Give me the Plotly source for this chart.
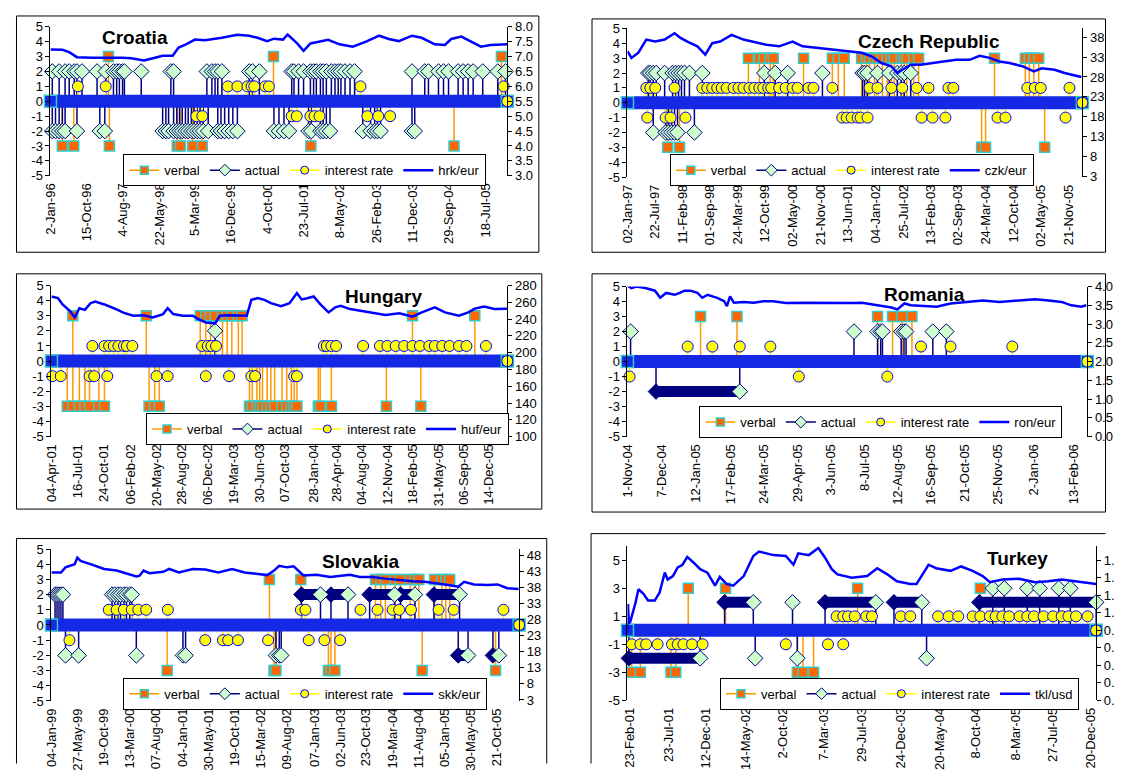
import math
import pandas as pd
import plotly.graph_objects as go

# page is 1123x780; the browser body keeps its default 8px margin, so the
# figure itself is 16px smaller and all layout positions are page pixels.
PAGE_W, PAGE_H, BODY_MARGIN = 1123, 780, 8
FW, FH = PAGE_W - 2 * BODY_MARGIN, PAGE_H - 2 * BODY_MARGIN
FONT = "Liberation Sans, Arial, Helvetica, sans-serif"

# ======================= DATA (dates as decimal years) =======================
# ---------- Croatia ----------
HR_PERIOD = [1996.00, 2006.02]
HR_TICKS = ["2-Jan-96", "15-Oct-96", "4-Aug-97", "22-May-98", "5-Mar-99", "16-Dec-99", "4-Oct-00",
            "23-Jul-01", "8-May-02", "26-Feb-03", "11-Dec-03", "29-Sep-04", "18-Jul-05"]
HR_VERBAL = [(1996.26, -3), (1996.51, -3), (1997.27, 3), (1997.29, -3), (1998.78, -3), (1998.85, -3),
             (1999.12, -3), (1999.33, -3), (2000.89, 3), (2001.71, -3), (2004.85, -3), (2005.89, 3)]
HR_ACTUAL = [(1996.04, 2), (1996.19, 2), (1996.32, 2), (1996.41, 2), (1996.52, 2), (1996.58, 2), (1996.69, 2),
             (1997.02, 2), (1997.21, 2), (1997.38, 2), (1997.45, 2), (1997.51, 2), (1997.58, 2), (1997.62, 2),
             (1997.99, 2), (1998.64, 2), (1998.70, 2), (1999.43, 2), (1999.54, 2), (1999.61, 2), (1999.67, 2),
             (1999.76, 2), (2000.36, 2), (2000.43, 2), (2000.58, 2), (2001.29, 2), (2001.34, 2), (2001.44, 2),
             (2001.55, 2), (2001.70, 2), (2001.77, 2), (2001.83, 2), (2001.92, 2), (2001.98, 2), (2002.05, 2),
             (2002.16, 2), (2002.24, 2), (2002.31, 2), (2002.37, 2), (2002.46, 2), (2002.57, 2), (2002.67, 2),
             (2003.93, 2), (2004.21, 2), (2004.29, 2), (2004.51, 2), (2004.62, 2), (2004.73, 2), (2004.94, 2),
             (2005.05, 2), (2005.16, 2), (2005.27, 2), (2005.48, 2), (2005.81, 2), (2005.98, 2),
             (1996.04, -2), (1996.11, -2), (1996.19, -2), (1996.26, -2), (1996.32, -2), (1996.58, -2),
             (1997.08, -2), (1997.19, -2), (1998.46, -2), (1998.53, -2), (1998.59, -2), (1998.70, -2),
             (1998.77, -2), (1998.83, -2), (1998.89, -2), (1998.96, -2), (1999.02, -2), (1999.09, -2),
             (1999.15, -2), (1999.22, -2), (1999.28, -2), (1999.35, -2), (1999.46, -2), (1999.67, -2),
             (1999.74, -2), (1999.82, -2), (1999.91, -2), (2000.00, -2), (2000.10, -2), (2000.90, -2),
             (2001.01, -2), (2001.12, -2), (2001.23, -2), (2001.66, -2), (2001.72, -2), (2001.92, -2),
             (2001.98, -2), (2002.05, -2), (2002.13, -2), (2002.85, -2), (2003.02, -2), (2003.11, -2),
             (2003.17, -2), (2003.24, -2), (2003.93, -2), (2003.99, -2)]
HR_ACTUAL_RUNS = []
HR_RATE = [(1996.60, 1), (1997.21, 1), (1999.89, 1), (2000.10, 1), (2000.32, 1), (2000.41, 1), (2000.47, 1),
           (2000.71, 1), (2000.79, 1), (2002.80, 1), (2005.94, 1),
           (1999.20, -1), (1999.33, -1), (2001.29, -1), (2001.40, -1), (2001.70, -1), (2001.79, -1),
           (2001.90, -1), (2002.95, -1), (2003.19, -1), (2003.45, -1)]
HR_FX = [(1996.00, 7.24), (1996.26, 7.23), (1996.41, 7.15), (1996.58, 6.98), (1996.91, 6.96), (1997.23, 6.97),
         (1997.56, 6.96), (1997.77, 6.94), (1998.05, 6.87), (1998.27, 6.95), (1998.46, 7.03), (1998.68, 7.03),
         (1998.81, 7.30), (1998.96, 7.40), (1999.17, 7.57), (1999.39, 7.55), (1999.76, 7.63), (2000.10, 7.73),
         (2000.36, 7.70), (2000.54, 7.63), (2000.75, 7.52), (2000.90, 7.60), (2001.10, 7.57), (2001.20, 7.74),
         (2001.41, 7.44), (2001.55, 7.19), (2001.70, 7.44), (2002.09, 7.56), (2002.34, 7.41), (2002.63, 7.33),
         (2002.92, 7.50), (2003.21, 7.70), (2003.42, 7.59), (2003.64, 7.52), (2003.93, 7.70), (2004.14, 7.63),
         (2004.43, 7.41), (2004.65, 7.39), (2004.79, 7.59), (2005.01, 7.67), (2005.22, 7.50), (2005.44, 7.33),
         (2005.65, 7.39), (2006.02, 7.41)]

# ---------- Czech Republic ----------
CZ_PERIOD = [1997.00, 2006.17]
CZ_TICKS = ["02-Jan-97", "22-Jul-97", "11-Feb-98", "01-Sep-98", "24-Mar-99", "12-Oct-99", "02-May-00",
            "21-Nov-00", "13-Jun-01", "04-Jan-02", "25-Jul-02", "13-Feb-03", "02-Sep-03", "24-Mar-04",
            "12-Oct-04", "02-May-05", "21-Nov-05"]
CZ_VERBAL = [(1999.44, 3), (1999.66, 3), (1999.76, 3), (1999.88, 3), (1999.94, 3), (2000.55, 3), (2001.13, 3),
             (2001.25, 3), (2001.37, 3), (2001.72, 3), (2001.82, 3), (2001.88, 3), (2001.98, 3), (2002.04, 3),
             (2002.14, 3), (2002.24, 3), (2002.32, 3), (2002.38, 3), (2002.52, 3), (2002.58, 3), (2002.63, 3),
             (2002.77, 3), (2002.87, 3), (2004.40, 3), (2005.02, 3), (2005.10, 3), (2005.19, 3), (2005.29, 3),
             (1997.81, -3), (1998.05, -3), (2004.14, -3), (2004.22, -3), (2005.41, -3)]
CZ_ACTUAL = [(1997.42, 2), (1997.46, 2), (1997.52, 2), (1997.58, 2), (1997.75, 2), (1997.91, 2), (1997.97, 2),
             (1998.03, 2), (1998.09, 2), (1998.15, 2), (1998.25, 2), (1998.51, 2), (1999.76, 2), (1999.98, 2),
             (2000.23, 2), (2000.93, 2), (2001.74, 2), (2001.78, 2), (2001.84, 2), (2002.04, 2), (2002.28, 2),
             (2002.44, 2), (2002.52, 2), (2002.58, 2), (2002.71, 2),
             (1997.52, -2), (1997.77, -2), (1997.83, -2), (1997.89, -2), (1997.95, -2), (1998.01, -2),
             (1998.35, -2)]
CZ_ACTUAL_RUNS = []
CZ_RATE = [(1997.38, 1), (1997.46, 1), (1997.56, 1), (1997.95, 1), (1998.51, 1), (1998.61, 1), (1998.71, 1),
           (1998.81, 1), (1998.90, 1), (1999.00, 1), (1999.14, 1), (1999.24, 1), (1999.34, 1), (1999.46, 1),
           (1999.56, 1), (1999.66, 1), (1999.74, 1), (1999.84, 1), (1999.90, 1), (2000.06, 1), (2000.19, 1),
           (2000.33, 1), (2000.43, 1), (2000.65, 1), (2000.75, 1), (2001.13, 1), (2001.88, 1), (2002.04, 1),
           (2002.32, 1), (2002.54, 1), (2002.83, 1), (2003.07, 1), (2003.47, 1), (2003.57, 1), (2005.06, 1),
           (2005.21, 1), (2005.33, 1), (2005.91, 1),
           (1997.40, -1), (1997.77, -1), (1997.87, -1), (1998.17, -1), (2001.33, -1), (2001.42, -1),
           (2001.52, -1), (2001.64, -1), (2001.70, -1), (2001.84, -1), (2002.93, -1), (2003.15, -1),
           (2003.41, -1), (2004.46, -1), (2004.62, -1), (2005.83, -1)]
CZ_FX = [(1997.00, 34.5), (1997.08, 32.8), (1997.22, 34.1), (1997.38, 37.4), (1997.56, 36.9), (1997.75, 37.4),
         (1997.95, 39.0), (1998.07, 37.8), (1998.21, 36.9), (1998.41, 35.7), (1998.57, 33.6), (1998.71, 36.5),
         (1998.87, 36.9), (1999.10, 38.6), (1999.34, 37.4), (1999.54, 36.9), (1999.80, 36.1), (2000.06, 35.7),
         (2000.33, 36.9), (2000.53, 35.7), (2000.85, 35.3), (2001.13, 34.9), (2001.44, 34.5), (2001.72, 34.1),
         (2001.92, 33.2), (2002.12, 31.5), (2002.32, 30.7), (2002.44, 29.0), (2002.54, 29.8), (2002.71, 31.1),
         (2002.91, 31.1), (2003.11, 31.5), (2003.37, 31.9), (2003.63, 32.3), (2003.90, 32.3), (2004.10, 33.3),
         (2004.30, 32.8), (2004.50, 31.9), (2004.70, 31.5), (2004.96, 30.7), (2005.19, 29.4), (2005.35, 30.2),
         (2005.61, 29.8), (2005.81, 29.0), (2006.01, 28.3), (2006.15, 28.0)]

# ---------- Hungary ----------
HU_PERIOD = [2001.25, 2006.15]
HU_TICKS = ["04-Apr-01", "16-Jul-01", "24-Oct-01", "06-Feb-02", "20-May-02", "28-Aug-02", "06-Dec-02",
            "19-Mar-03", "30-Jun-03", "07-Oct-03", "28-Jan-04", "28-Apr-04", "04-Aug-04", "12-Nov-04",
            "18-Feb-05", "31-May-05", "06-Sep-05", "14-Dec-05"]
HU_VERBAL = [(2001.48, 3), (2002.27, 3), (2002.85, 3), (2002.91, 3), (2002.96, 3), (2003.01, 3), (2003.09, 3),
             (2003.14, 3), (2003.19, 3), (2003.26, 3), (2003.30, 3), (2005.13, 3), (2005.80, 3),
             (2001.42, -3), (2001.48, -3), (2001.55, -3), (2001.61, -3), (2001.66, -3), (2001.76, -3),
             (2001.82, -3), (2002.30, -3), (2002.36, -3), (2002.41, -3), (2003.38, -3), (2003.41, -3),
             (2003.46, -3), (2003.49, -3), (2003.52, -3), (2003.57, -3), (2003.61, -3), (2003.65, -3),
             (2003.73, -3), (2003.78, -3), (2003.83, -3), (2003.86, -3), (2003.89, -3), (2004.12, -3),
             (2004.14, -3), (2004.26, -3), (2004.85, -3), (2005.22, -3)]
HU_ACTUAL = [(2003.01, 2)]
HU_ACTUAL_RUNS = []
HU_RATE = [(2001.69, 1), (2001.82, 1), (2001.87, 1), (2001.92, 1), (2001.97, 1), (2002.03, 1), (2002.06, 1),
           (2002.12, 1), (2002.87, 1), (2002.93, 1), (2002.97, 1), (2003.02, 1), (2004.18, 1), (2004.21, 1),
           (2004.26, 1), (2004.31, 1), (2004.60, 1), (2004.78, 1), (2004.86, 1), (2004.95, 1), (2005.04, 1),
           (2005.13, 1), (2005.21, 1), (2005.31, 1), (2005.37, 1), (2005.45, 1), (2005.53, 1), (2005.63, 1),
           (2005.71, 1), (2005.92, 1),
           (2001.26, -1), (2001.35, -1), (2001.66, -1), (2001.71, -1), (2001.85, -1), (2002.38, -1),
           (2002.50, -1), (2002.91, -1), (2003.16, -1), (2003.40, -1), (2003.44, -1), (2003.86, -1),
           (2003.89, -1)]
HU_FX = [(2001.25, 267), (2001.32, 265), (2001.37, 257.5), (2001.45, 249.5), (2001.50, 242), (2001.55, 253),
         (2001.61, 251), (2001.67, 259), (2001.72, 261), (2001.82, 257.5), (2001.92, 253), (2002.03, 247.5),
         (2002.13, 244), (2002.24, 244.5), (2002.34, 242), (2002.45, 246), (2002.50, 253), (2002.56, 246),
         (2002.66, 244), (2002.77, 244), (2002.83, 240), (2002.91, 236), (2003.01, 235), (2003.06, 244),
         (2003.15, 244.5), (2003.26, 244.5), (2003.35, 244), (2003.40, 263), (2003.47, 265), (2003.54, 263),
         (2003.61, 259), (2003.72, 255.5), (2003.81, 259), (2003.89, 271), (2003.94, 263.5), (2004.00, 265),
         (2004.07, 267), (2004.14, 258), (2004.23, 248), (2004.30, 254), (2004.36, 256), (2004.46, 252),
         (2004.57, 250), (2004.70, 248), (2004.84, 245), (2004.99, 247), (2005.13, 243), (2005.23, 248),
         (2005.37, 254), (2005.48, 248), (2005.63, 244), (2005.73, 248), (2005.80, 252.5), (2005.90, 255),
         (2006.01, 252), (2006.15, 252.5)]

# ---------- Romania ----------
RO_PERIOD = [2004.833, 2006.157]
RO_TICKS = ["1-Nov-04", "7-Dec-04", "12-Jan-05", "17-Feb-05", "24-Mar-05", "29-Apr-05", "3-Jun-05",
            "8-Jul-05", "12-Aug-05", "16-Sep-05", "21-Oct-05", "25-Nov-05", "2-Jan-06", "13-Feb-06"]
RO_VERBAL = [(2005.043, 3), (2005.148, 3), (2005.553, 3), (2005.596, 3), (2005.624, 3), (2005.652, 3)]
RO_ACTUAL = [(2004.842, 2), (2005.485, 2), (2005.553, 2), (2005.562, 2), (2005.567, 2), (2005.621, 2),
             (2005.629, 2), (2005.635, 2), (2005.712, 2), (2005.751, 2)]
RO_ACTUAL_RUNS = [(2004.915, 2005.156, -2)]
RO_RATE = [(2005.006, 1), (2005.077, 1), (2005.156, 1), (2005.244, 1), (2005.678, 1), (2005.763, 1),
           (2005.941, 1), (2004.839, -1), (2005.326, -1), (2005.581, -1)]
RO_FX = [(2004.833, 4.03), (2004.844, 3.96), (2004.859, 4.00), (2004.884, 3.96), (2004.912, 3.89),
         (2004.927, 3.70), (2004.944, 3.83), (2004.969, 3.78), (2004.983, 3.83), (2004.997, 3.89),
         (2005.014, 3.89), (2005.034, 3.83), (2005.048, 3.70), (2005.063, 3.78), (2005.091, 3.70),
         (2005.111, 3.61), (2005.119, 3.48), (2005.128, 3.74), (2005.139, 3.57), (2005.167, 3.59),
         (2005.196, 3.57), (2005.224, 3.61), (2005.252, 3.61), (2005.289, 3.56), (2005.346, 3.57),
         (2005.403, 3.56), (2005.479, 3.56), (2005.508, 3.57), (2005.553, 3.50), (2005.593, 3.44),
         (2005.610, 3.39), (2005.630, 3.55), (2005.649, 3.50), (2005.686, 3.48), (2005.723, 3.46),
         (2005.763, 3.55), (2005.819, 3.59), (2005.856, 3.63), (2005.904, 3.59), (2005.961, 3.62),
         (2006.006, 3.66), (2006.046, 3.63), (2006.083, 3.59), (2006.111, 3.50), (2006.140, 3.46),
         (2006.154, 3.50)]

# ---------- Slovakia ----------
SK_PERIOD = [1999.005, 2006.14]
SK_TICKS = ["04-Jan-99", "27-May-99", "19-Oct-99", "13-Mar-00", "07-Aug-00", "04-Jan-01", "30-May-01",
            "19-Oct-01", "15-Mar-02", "09-Aug-02", "07-Jan-03", "02-Jun-03", "23-Oct-03", "19-Mar-04",
            "11-Aug-04", "05-Jan-05", "30-May-05", "21-Oct-05"]
SK_VERBAL = [(2002.33, 3), (2002.81, 3), (2003.95, 3), (2004.03, 3), (2004.10, 3), (2004.25, 3), (2004.33, 3),
             (2004.48, 3), (2004.55, 3), (2004.61, 3), (2004.85, 3), (2004.96, 3), (2005.02, 3), (2005.08, 3),
             (2000.77, -3), (2002.40, -3), (2002.43, -3), (2003.23, -3), (2003.27, -3), (2003.33, -3),
             (2004.66, -3), (2005.78, -3)]
SK_ACTUAL = [(1999.06, 2), (1999.09, 2), (1999.12, 2), (1999.15, 2), (1999.18, 2), (1999.93, 2), (1999.97, 2),
             (2000.02, 2), (2000.06, 2), (2000.11, 2), (2000.15, 2), (2000.20, 2), (2000.23, 2),
             (1999.22, -2), (1999.42, -2), (2000.30, -2), (2001.01, -2), (2001.05, -2), (2002.43, -2),
             (2002.48, -2), (2002.51, -2)]
SK_ACTUAL_RUNS = [(2002.82, 2003.11, 2), (2003.27, 2003.53, 2), (2003.86, 2004.24, 2), (2004.33, 2004.55, 2),
                  (2004.84, 2005.23, 2), (2005.21, 2005.36, -2), (2005.74, 2005.83, -2)]
SK_RATE = [(1999.88, 1), (2000.00, 1), (2000.11, 1), (2000.23, 1), (2000.33, 1), (2000.45, 1), (2000.78, 1),
           (2002.81, 1), (2002.88, 1), (2003.72, 1), (2003.98, 1), (2004.21, 1), (2004.31, 1), (2004.49, 1),
           (2004.91, 1), (2005.14, 1), (2005.90, 1),
           (1999.28, -1), (2001.35, -1), (2001.62, -1), (2001.70, -1), (2001.85, -1), (2002.31, -1),
           (2002.93, -1), (2003.17, -1), (2003.41, -1)]
SK_FX = [(1999.005, 42.6), (1999.15, 42.6), (1999.22, 44.2), (1999.36, 45.2), (1999.40, 47.2), (1999.45, 46.2),
         (1999.60, 45.2), (1999.81, 43.7), (2000.00, 43.2), (2000.20, 42.1), (2000.30, 41.4), (2000.35, 41.6),
         (2000.41, 43.2), (2000.50, 42.4), (2000.71, 42.8), (2000.80, 43.7), (2000.95, 42.6), (2001.16, 43.7),
         (2001.35, 43.5), (2001.55, 42.6), (2001.76, 43.7), (2001.95, 42.6), (2002.15, 42.1), (2002.30, 41.8),
         (2002.40, 43.2), (2002.48, 44.7), (2002.60, 44.2), (2002.70, 44.5), (2002.85, 41.7), (2003.05, 41.9),
         (2003.26, 41.2), (2003.41, 41.5), (2003.56, 41.9), (2003.71, 41.2), (2003.90, 41.2), (2004.10, 40.7),
         (2004.31, 40.2), (2004.51, 39.9), (2004.70, 39.7), (2004.91, 39.2), (2005.06, 38.7), (2005.21, 38.2),
         (2005.30, 39.7), (2005.45, 38.9), (2005.66, 38.7), (2005.81, 38.9), (2005.96, 37.7), (2006.13, 37.5)]

# ---------- Turkey ----------
TR_PERIOD = [2001.125, 2006.02]
TR_TICKS = ["23-Feb-01", "23-Jul-01", "12-Dec-01", "14-May-02", "2-Oct-02", "7-Mar-03", "29-Jul-03",
            "24-Dec-03", "20-May-04", "8-Oct-04", "8-Mar-05", "27-Jul-05", "20-Dec-05"]
TR_VERBAL = [(2001.76, 3), (2002.15, 3), (2003.53, 3), (2004.81, 3), (2001.17, -3), (2001.26, -3),
             (2001.58, -3), (2001.63, -3), (2002.90, -3), (2002.96, -3), (2003.07, -3)]
TR_ACTUAL = [(2002.85, 2), (2004.94, 3), (2005.06, 3), (2005.30, 3), (2005.43, 3), (2005.63, 3), (2005.75, 3),
             (2002.46, -2), (2002.90, -2), (2004.25, -2)]
TR_ACTUAL_RUNS = [(2001.14, 2001.885, -2), (2002.14, 2002.44, 2), (2003.19, 2003.72, 2), (2003.91, 2004.20, 2),
                  (2004.80, 2006.02, 2)]
TR_RATE = [(2003.31, 1), (2003.38, 1), (2003.43, 1), (2003.50, 1), (2003.62, 1), (2003.68, 1), (2003.98, 1),
           (2004.08, 1), (2004.37, 1), (2004.48, 1), (2004.58, 1), (2004.73, 1), (2004.81, 1), (2004.91, 1),
           (2004.97, 1), (2005.04, 1), (2005.11, 1), (2005.22, 1), (2005.30, 1), (2005.37, 1), (2005.47, 1),
           (2005.57, 1), (2005.66, 1), (2005.73, 1), (2005.81, 1), (2005.93, 1),
           (2001.17, -1), (2001.26, -1), (2001.32, -1), (2001.44, -1), (2001.59, -1), (2001.65, -1),
           (2001.71, -1), (2001.80, -1), (2001.91, -1), (2002.78, -1), (2003.22, -1), (2003.38, -1)]
TR_FX = [(2001.125, 0.79), (2001.13, 1.10), (2001.14, 0.88), (2001.155, 0.90), (2001.21, 1.12), (2001.24, 1.27),
         (2001.29, 1.22), (2001.34, 1.14), (2001.41, 1.14), (2001.46, 1.23), (2001.515, 1.46), (2001.545, 1.38),
         (2001.60, 1.42), (2001.65, 1.52), (2001.70, 1.55), (2001.75, 1.64), (2001.82, 1.57), (2001.885, 1.50),
         (2001.96, 1.46), (2002.04, 1.31), (2002.09, 1.41), (2002.16, 1.33), (2002.23, 1.31), (2002.34, 1.42),
         (2002.44, 1.65), (2002.50, 1.70), (2002.65, 1.66), (2002.78, 1.65), (2002.86, 1.55), (2002.91, 1.68),
         (2003.02, 1.66), (2003.12, 1.74), (2003.19, 1.63), (2003.26, 1.50), (2003.32, 1.44), (2003.47, 1.40),
         (2003.63, 1.42), (2003.735, 1.51), (2003.84, 1.44), (2003.94, 1.36), (2004.08, 1.33), (2004.145, 1.33),
         (2004.22, 1.46), (2004.27, 1.55), (2004.35, 1.51), (2004.50, 1.48), (2004.61, 1.53), (2004.73, 1.48),
         (2004.835, 1.42), (2004.91, 1.35), (2005.04, 1.38), (2005.215, 1.39), (2005.38, 1.35), (2005.52, 1.36),
         (2005.66, 1.38), (2005.79, 1.36), (2005.935, 1.34), (2006.02, 1.33)]

# right-axis ticks (Turkey's labels are cut by the right edge of the page in the original)
HR_FX_TICKS = [3.0, 3.5, 4.0, 4.5, 5.0, 5.5, 6.0, 6.5, 7.0, 7.5, 8.0]
CZ_FX_TICKS = [3, 8, 13, 18, 23, 28, 33, 38]
HU_FX_TICKS = [100, 120, 140, 160, 180, 200, 220, 240, 260, 280]
RO_FX_TICKS = [0.0, 0.5, 1.0, 1.5, 2.0, 2.5, 3.0, 3.5, 4.0]
SK_FX_TICKS = [3, 8, 13, 18, 23, 28, 33, 38, 43, 48]
TR_FX_TICKS = [0.0, 0.2, 0.4, 0.6, 0.8, 1.0, 1.2, 1.4, 1.6]
TR_FX_TICKTEXT = ["0.", "0.", "0.", "0.", "0.", "1.", "1.", "1.", "1."]
SIGNAL_TICKS = [-5, -4, -3, -2, -1, 0, 1, 2, 3, 4, 5]
TR_SIGNAL_TICKS = [-5, -3, -1, 1, 3, 5]

# ======================= STYLE / LAYOUT =======================
VERBAL_LINE, VERBAL_FILL, VERBAL_EDGE = "#FF9900", "#FF6600", "#33CCCC"
ACTUAL_LINE, ACTUAL_FILL = "#000080", "#CCFFCC"
RATE_LINE, RATE_FILL, RATE_EDGE = "#FFFF00", "#FFFF00", "#0000FF"
FX_COLOR = "#0000FF"
BAND_COLOR = "#1428E6"

PANELS = [
    dict(title="Croatia", fx_name="hrk/eur", period=HR_PERIOD, ticks=HR_TICKS, verbal=HR_VERBAL,
         actual=HR_ACTUAL, runs=HR_ACTUAL_RUNS, rate=HR_RATE, fx=HR_FX, fx_ticks=HR_FX_TICKS,
         fx_text=[f"{v:.1f}" for v in HR_FX_TICKS], fx_range=[3, 8], left_range=[-5, 5], left_ticks=SIGNAL_TICKS,
         px=(43, 507), py=(20, 172), frame=(7, 9, 539, 250), title_xy=(129, 31), legend_xy=(117, 150)),
    dict(title="Czech Republic", fx_name="czk/eur", period=CZ_PERIOD, ticks=CZ_TICKS, verbal=CZ_VERBAL,
         actual=CZ_ACTUAL, runs=CZ_ACTUAL_RUNS, rate=CZ_RATE, fx=CZ_FX, fx_ticks=CZ_FX_TICKS,
         fx_text=[str(v) for v in CZ_FX_TICKS], fx_range=[2.85, 40.2], left_range=[-5, 5],
         left_ticks=SIGNAL_TICKS,
         px=(629, 1091), py=(21.7, 173.3), frame=(593, 12, 1118, 250), title_xy=(935, 35),
         legend_xy=(672, 150)),
    dict(title="Hungary", fx_name="huf/eur", period=HU_PERIOD, ticks=HU_TICKS, verbal=HU_VERBAL,
         actual=HU_ACTUAL, runs=HU_ACTUAL_RUNS, rate=HU_RATE, fx=HU_FX, fx_ticks=HU_FX_TICKS,
         fx_text=[str(v) for v in HU_FX_TICKS], fx_range=[100, 280], left_range=[-5, 5], left_ticks=SIGNAL_TICKS,
         px=(44, 507), py=(284, 438), frame=(8, 272, 542, 512), title_xy=(382, 295), legend_xy=(140, 414)),
    dict(title="Romania", fx_name="ron/eur", period=RO_PERIOD, ticks=RO_TICKS, verbal=RO_VERBAL,
         actual=RO_ACTUAL, runs=RO_ACTUAL_RUNS, rate=RO_RATE, fx=RO_FX, fx_ticks=RO_FX_TICKS,
         fx_text=[f"{v:.1f}" for v in RO_FX_TICKS], fx_range=[0, 4], left_range=[-5, 5], left_ticks=SIGNAL_TICKS,
         px=(629, 1096), py=(285, 438), frame=(593, 272, 1121, 515), title_xy=(931, 293),
         legend_xy=(702, 407)),
    dict(title="Slovakia", fx_name="skk/eur", period=SK_PERIOD, ticks=SK_TICKS, verbal=SK_VERBAL,
         actual=SK_ACTUAL, runs=SK_ACTUAL_RUNS, rate=SK_RATE, fx=SK_FX, fx_ticks=SK_FX_TICKS,
         fx_text=[str(v) for v in SK_FX_TICKS], fx_range=[2.7, 49.9], left_range=[-5, 5], left_ticks=SIGNAL_TICKS,
         px=(44, 519), py=(552.7, 707.7), frame=(8, 542, 547, 790), title_xy=(358, 565), legend_xy=(117, 684)),
    dict(title="Turkey", fx_name="tkl/usd", period=TR_PERIOD, ticks=TR_TICKS, verbal=TR_VERBAL,
         actual=TR_ACTUAL, runs=TR_ACTUAL_RUNS, rate=TR_RATE, fx=TR_FX, fx_ticks=TR_FX_TICKS,
         fx_text=TR_FX_TICKTEXT, fx_range=[0, 1.76], left_range=[-5, 6], left_ticks=TR_SIGNAL_TICKS,
         px=(629, 1105), py=(550, 707), frame=(592, 537, 1135, 790), title_xy=(1025, 562), legend_xy=(723, 684)),
]


def PX(x):
    return (x - BODY_MARGIN) / FW


def PY(y):
    return 1 - (y - BODY_MARGIN) / FH


def to_dt(y):
    yi = int(math.floor(y))
    n = 366 if (yi % 4 == 0 and (yi % 100 != 0 or yi % 400 == 0)) else 365
    d = pd.Timestamp(yi, 1, 1) + pd.Timedelta(days=(y - yi) * n)
    return d.strftime("%Y-%m-%d %H:%M")


def stems(events):
    xs, ys = [], []
    for t, v in events:
        d = to_dt(t)
        xs += [d, d, None]
        ys += [0, v, None]
    return xs, ys


def frame_lines(x0, y0, x1, y1):
    """Panel border; sides that fall off the page are left out, the rest kept inside the figure."""
    lo_x, hi_x = BODY_MARGIN + 0.5, PAGE_W - BODY_MARGIN - 0.5
    lo_y, hi_y = BODY_MARGIN + 0.5, PAGE_H - BODY_MARGIN - 0.5
    cx0, cx1 = max(x0, lo_x), min(x1, hi_x)
    cy0, cy1 = max(y0, lo_y), min(y1, hi_y)
    out = []
    if y0 < PAGE_H:
        out.append((cx0, cy0, cx1, cy0))
    if y1 < PAGE_H:
        out.append((cx0, cy1, cx1, cy1))
    if x0 < PAGE_W:
        out.append((cx0, cy0, cx0, cy1))
    if x1 < PAGE_W:
        out.append((cx1, cy0, cx1, cy1))
    return out


fig = go.Figure()
layout = dict(width=FW, height=FH, margin=dict(l=0, r=0, t=0, b=0), autosize=False,
              paper_bgcolor="white", plot_bgcolor="white",
              font=dict(family=FONT, size=13, color="black"), shapes=[], annotations=[])

for i, p in enumerate(PANELS, start=1):
    xid = "x" if i == 1 else f"x{i}"
    yl = "y" if i == 1 else f"y{2 * i - 1}"
    yr = f"y{2 * i}"
    xkey = "xaxis" if i == 1 else f"xaxis{i}"
    ylkey = "yaxis" if i == 1 else f"yaxis{2 * i - 1}"
    yrkey = f"yaxis{2 * i}"
    lg = "legend" if i == 1 else f"legend{i}"
    common = dict(xaxis=xid, yaxis=yl, showlegend=False, legend=lg, hoverinfo="skip")

    run_ends = [(a, v) for a, b, v in p["runs"]] + [(b, v) for a, b, v in p["runs"]]

    # stems
    sx, sy = stems(p["verbal"])
    fig.add_trace(go.Scatter(x=sx, y=sy, mode="lines", line=dict(color=VERBAL_LINE, width=1.5), **common))
    sx, sy = stems(p["actual"] + run_ends)
    fig.add_trace(go.Scatter(x=sx, y=sy, mode="lines", line=dict(color=ACTUAL_LINE, width=1.5), **common))
    sx, sy = stems(p["rate"])
    fig.add_trace(go.Scatter(x=sx, y=sy, mode="lines", line=dict(color=RATE_LINE, width=1.5), **common))

    # runs of consecutive actual interventions
    if p["runs"]:
        rx, ry = [], []
        for a, b, v in p["runs"]:
            rx += [to_dt(a), to_dt(b), None]
            ry += [v, v, None]
        fig.add_trace(go.Scatter(x=rx, y=ry, mode="lines", line=dict(color=ACTUAL_LINE, width=11), **common))
        fig.add_trace(go.Scatter(x=[to_dt(a) for a, b, v in p["runs"]], y=[v for a, b, v in p["runs"]],
                                 mode="markers", cliponaxis=False,
                                 marker=dict(symbol="diamond", size=12, color=ACTUAL_LINE,
                                             line=dict(color=ACTUAL_LINE, width=1)), **common))

    # zero band
    p0, p1 = to_dt(p["period"][0]), to_dt(p["period"][1])
    fig.add_trace(go.Scatter(x=[p0, p1], y=[0, 0], mode="lines", line=dict(color=BAND_COLOR, width=13), **common))
    fig.add_trace(go.Scatter(x=[p0, p1], y=[0, 0], mode="markers", cliponaxis=False,
                             marker=dict(symbol="square", size=12, color=BAND_COLOR,
                                         line=dict(color=VERBAL_EDGE, width=1.5)), **common))
    fig.add_trace(go.Scatter(x=[p1], y=[0], mode="markers", cliponaxis=False,
                             marker=dict(symbol="circle", size=11, color=RATE_FILL,
                                         line=dict(color=RATE_EDGE, width=1)), **common))

    # markers
    fig.add_trace(go.Scatter(x=[to_dt(t) for t, v in p["verbal"]], y=[v for t, v in p["verbal"]],
                             mode="markers", cliponaxis=False,
                             marker=dict(symbol="square", size=10, color=VERBAL_FILL,
                                         line=dict(color=VERBAL_EDGE, width=1.5)), **common))
    act = p["actual"] + [(b, v) for a, b, v in p["runs"]]
    fig.add_trace(go.Scatter(x=[to_dt(t) for t, v in act], y=[v for t, v in act],
                             mode="markers", cliponaxis=False,
                             marker=dict(symbol="diamond", size=12, color=ACTUAL_FILL,
                                         line=dict(color=ACTUAL_LINE, width=1)), **common))
    fig.add_trace(go.Scatter(x=[to_dt(t) for t, v in p["rate"]], y=[v for t, v in p["rate"]],
                             mode="markers", cliponaxis=False,
                             marker=dict(symbol="circle", size=11, color=RATE_FILL,
                                         line=dict(color=RATE_EDGE, width=1)), **common))

    # legend entries
    leg = dict(xaxis=xid, yaxis=yl, legend=lg, showlegend=True, mode="lines+markers", x=[None], y=[None])
    fig.add_trace(go.Scatter(name="verbal", line=dict(color=VERBAL_LINE, width=1.5),
                             marker=dict(symbol="square", size=8, color=VERBAL_FILL,
                                         line=dict(color=VERBAL_EDGE, width=1.5)), **leg))
    fig.add_trace(go.Scatter(name="actual", line=dict(color=ACTUAL_LINE, width=1.5),
                             marker=dict(symbol="diamond", size=9, color=ACTUAL_FILL,
                                         line=dict(color=ACTUAL_LINE, width=1)), **leg))
    fig.add_trace(go.Scatter(name="interest rate", line=dict(color=RATE_LINE, width=1.5),
                             marker=dict(symbol="circle", size=8, color=RATE_FILL,
                                         line=dict(color=RATE_EDGE, width=1)), **leg))

    # exchange rate
    fig.add_trace(go.Scatter(x=[to_dt(t) for t, v in p["fx"]], y=[v for t, v in p["fx"]],
                             mode="lines", name=p["fx_name"], line=dict(color=FX_COLOR, width=2.5),
                             xaxis=xid, yaxis=yr, legend=lg, showlegend=True, hoverinfo="skip"))

    x0, x1 = p["px"]
    y0, y1 = p["py"]
    tickpos = [pd.to_datetime(t, format="%d-%b-%y").strftime("%Y-%m-%d") for t in p["ticks"]]
    layout[xkey] = dict(domain=[PX(x0), PX(x1)], anchor=yl, type="date", range=[p0, p1],
                        tickmode="array", tickvals=tickpos, ticktext=p["ticks"], tickangle=-90,
                        showgrid=False, zeroline=False, showline=False, ticks="",
                        tickfont=dict(size=13, color="black"), ticklabelstandoff=4)
    axis_common = dict(showgrid=False, zeroline=False, showline=True, linecolor="black", linewidth=1,
                       ticks="outside", ticklen=4, tickcolor="black", tickfont=dict(size=13, color="black"),
                       tickmode="array")
    layout[ylkey] = dict(domain=[PY(y1), PY(y0)], anchor=xid, range=p["left_range"],
                         tickvals=p["left_ticks"], ticktext=[str(v) for v in p["left_ticks"]], **axis_common)
    layout[yrkey] = dict(overlaying=yl, side="right", anchor=xid, range=p["fx_range"],
                         tickvals=p["fx_ticks"], ticktext=p["fx_text"], **axis_common)

    lx, ly = p["legend_xy"]
    layout[lg] = dict(x=PX(lx), y=PY(ly), xanchor="left", yanchor="top", orientation="h",
                      bordercolor="black", borderwidth=1, bgcolor="white",
                      font=dict(size=13, family=FONT, color="black"), traceorder="normal", itemwidth=30)

    for ax0, ay0, ax1, ay1 in frame_lines(*p["frame"]):
        layout["shapes"].append(dict(type="line", xref="paper", yref="paper", x0=PX(ax0), x1=PX(ax1),
                                     y0=PY(ay0), y1=PY(ay1), line=dict(color="black", width=1),
                                     layer="above"))
    tx, ty = p["title_xy"]
    layout["annotations"].append(dict(x=PX(tx), y=PY(ty), xref="paper", yref="paper",
                                      text=f"<b>{p['title']}</b>", showarrow=False,
                                      xanchor="center", yanchor="middle",
                                      font=dict(size=19, family=FONT, color="black")))

fig.update_layout(**layout)
fig.write_html("out.html", config={"displayModeBar": False})
